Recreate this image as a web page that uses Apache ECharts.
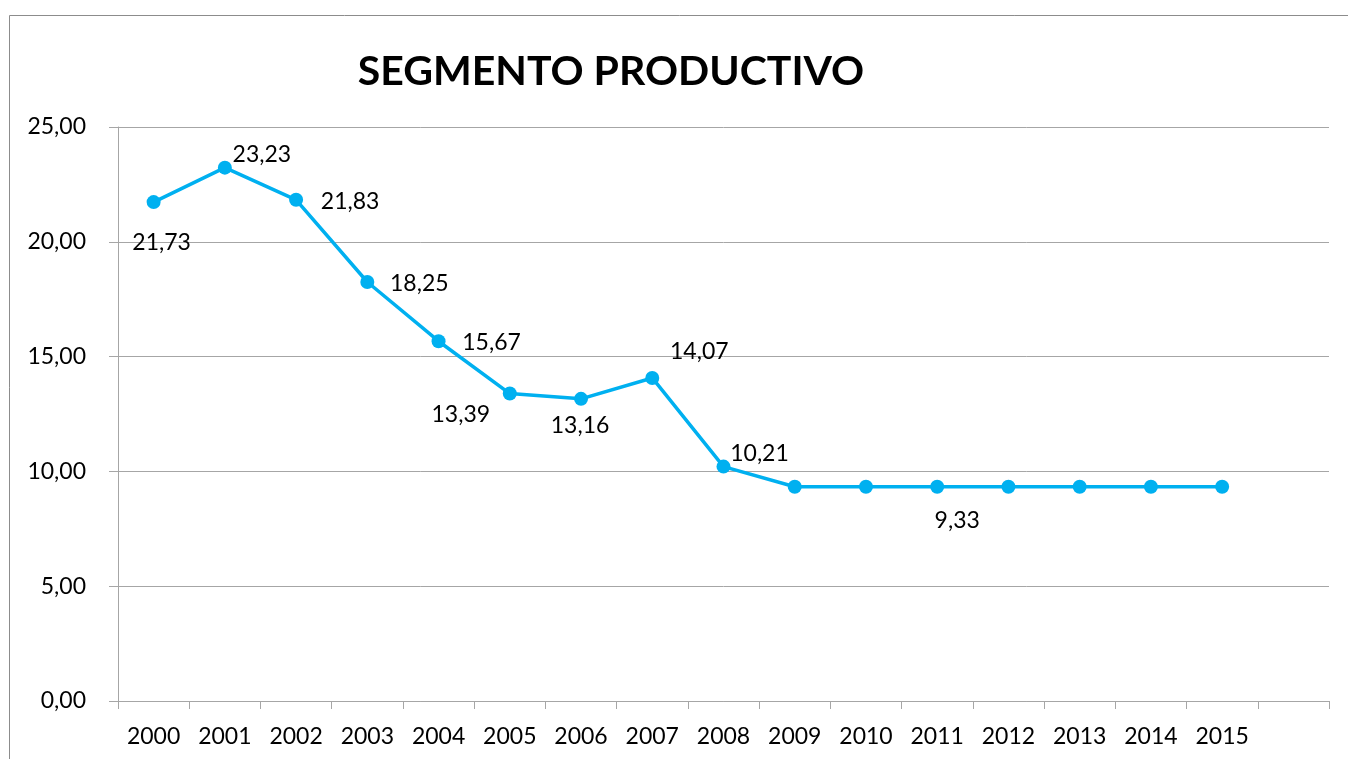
<!DOCTYPE html>
<html>
<head>
<meta charset="utf-8">
<script src="https://cdn.jsdelivr.net/npm/echarts@6/dist/echarts.min.js"></script>
<style>
  html, body { margin: 0; padding: 0; background: #fff; }
  #chart { width: 1348px; height: 759px; }
</style>
</head>
<body>
<div id="chart"></div>
<script>
// datos
const years = ['2000', '2001', '2002', '2003', '2004', '2005', '2006', '2007',
  '2008', '2009', '2010', '2011', '2012', '2013', '2014', '2015', ''];
const valores = [21.73, 23.23, 21.83, 18.25, 15.67, 13.39, 13.16, 14.07,
  10.21, 9.33, 9.33, 9.33, 9.33, 9.33, 9.33, 9.33];
const yTicks = [0, 5, 10, 15, 20, 25];

// donde va cada etiqueta (desplazamiento en px desde el punto), null = sin etiqueta
const labelOffsets = [[8, 40], [37, -13], [54, 2], [52, 2], [53, 1], [-49, 21], [-1, 27], [47, -26],
  [36, -13], null, null, [20, 34], null, null, null, null];

const fmt = v => v.toFixed(2).replace('.', ',');
const font = 'Lato';

const seriesData = valores.map((v, i) => {
  const off = labelOffsets[i];
  return {
    value: v,
    label: off ? {
      show: true,
      position: 'inside',
      offset: off,
      align: 'center',
      verticalAlign: 'middle',
      formatter: p => fmt(p.value),
      color: '#000',
      fontFamily: font,
      fontSize: 23
    } : { show: false }
  };
});

const chart = echarts.init(document.getElementById('chart'));
chart.setOption({
  backgroundColor: '#fff',
  animation: false,
  title: {
    text: 'SEGMENTO PRODUCTIVO',
    left: 606,
    top: 67,
    textAlign: 'center',
    textVerticalAlign: 'middle',
    textStyle: { fontFamily: font, fontWeight: 'bold', fontSize: 41, color: '#000' }
  },
  graphic: [{
    type: 'rect',
    shape: { x: 9.5, y: 15.5, width: 1400, height: 800 },
    style: { fill: 'none', stroke: '#8c8c8c', lineWidth: 1 },
    silent: true
  }],
  grid: { left: 118, right: 19, top: 127, bottom: 58 },
  xAxis: {
    type: 'category',
    data: years,
    boundaryGap: true,
    axisLine: { lineStyle: { color: '#a6a6a6', width: 1 } },
    axisTick: { show: true, interval: 0, length: 8, lineStyle: { color: '#a6a6a6' } },
    axisLabel: { interval: 0, color: '#000', fontFamily: font, fontSize: 23, margin: 24 },
    splitLine: { show: false }
  },
  yAxis: {
    type: 'value',
    min: yTicks[0],
    max: yTicks[yTicks.length - 1],
    interval: 5,
    axisLine: { show: true, lineStyle: { color: '#a6a6a6', width: 1 } },
    axisTick: { show: true, length: 9, lineStyle: { color: '#a6a6a6' } },
    axisLabel: { color: '#000', fontFamily: font, fontSize: 23, margin: 32, formatter: v => fmt(v) },
    splitLine: { lineStyle: { color: '#a6a6a6', width: 1 } }
  },
  series: [{
    type: 'line',
    data: seriesData,
    symbol: 'circle',
    symbolSize: 14,
    itemStyle: { color: '#00b0f0' },
    lineStyle: { color: '#00b0f0', width: 3.5 }
  }]
});
</script>
</body>
</html>
